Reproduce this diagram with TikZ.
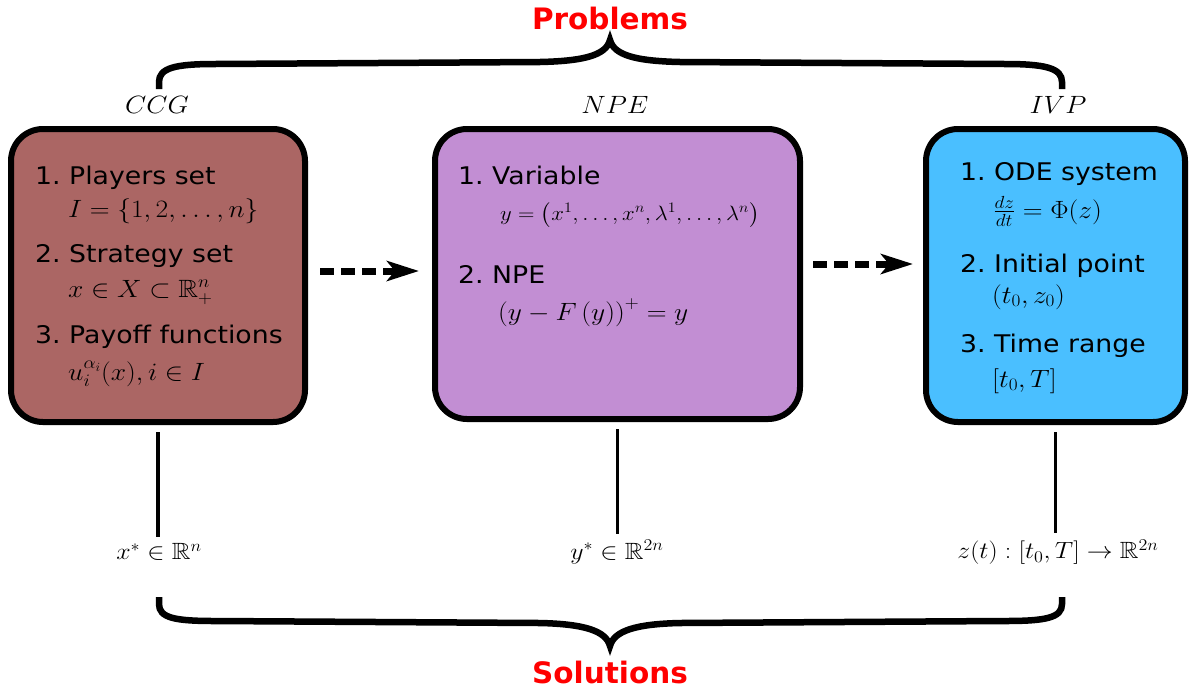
\RequirePackage{fix-cm}
\documentclass[tikz,border=0pt]{standalone}
\usepackage{fontspec}
\setmainfont{DejaVu Sans}
\usepackage{amsmath,amssymb}
\usepackage{graphicx}
\usetikzlibrary{arrows.meta}
\frenchspacing
\definecolor{ccgfill}{RGB}{171,102,100}
\definecolor{npefill}{RGB}{194,142,211}
\definecolor{ivpfill}{RGB}{74,191,255}
\newcommand{\hs}[1]{\scalebox{1.1}[1]{#1}}
\tikzset{
 box/.style={draw=black, line width=6pt, rounded corners=32pt, inner sep=0pt},
 item/.style={anchor=base west, inner sep=0pt, font=\fontsize{24.3}{28}\selectfont},
 formula/.style={anchor=base west, inner sep=0pt, font=\fontsize{25}{29}\selectfont},
 small formula/.style={anchor=base west, inner sep=0pt, font=\fontsize{20.7}{24}\selectfont},
 head/.style={inner sep=0pt, font=\fontsize{25}{29}\selectfont},
 sol/.style={inner sep=0pt, font=\fontsize{23.5}{27}\selectfont},
 title/.style={inner sep=0pt, text=red, font=\fontsize{29.5}{34}\selectfont\bfseries},
 brace/.style={line width=6.5pt},
 flow/.style={line width=7pt, dash pattern=on 14pt off 7pt, -{Stealth[length=32pt,width=20pt,inset=8pt]}},
 link/.style={line width=3.5pt},
}
\begin{document}
\begin{tikzpicture}[x=1pt,y=-1pt]
\useasboundingbox (0,0) rectangle (1191,689);
% boxes
\node[box, fill=ccgfill, minimum width=294pt, minimum height=293pt] (b1) at (158,275.5) {};
\node[box, fill=npefill, minimum width=365pt, minimum height=290pt] (b2) at (617.5,274) {};
\node[box, fill=ivpfill, minimum width=259pt, minimum height=293pt] (b3) at (1055.5,275.5) {};
% box 1 text
\node[item] (c1) at (35,184) {\hs{1. Players set}};
\node[formula] (c1f) at (68,217) {\hs{$I=\{1,2,\ldots,n\}$}};
\node[item] (c2) at (35,262) {\hs{2. Strategy set}};
\node[formula] (c2f) at (68,297) {\hs{$x\in X\subset\mathbb{R}^n_+$}};
\node[item] (c3) at (35,343) {\hs{3. Payoff functions}};
\node[formula] (c3f) at (68,380) {\hs{$u_i^{\alpha_i}(x), i\in I$}};
% box 2 text
\node[item] (n1) at (458,184) {\hs{1. Variable}};
\node[small formula] (n1f) at (500,220) {\hs{$y=\left(x^1,\ldots,x^n,\lambda^1,\ldots,\lambda^n\right)$}};
\node[item] (n2) at (458,283) {\hs{2. NPE}};
\node[formula] (n2f) at (498,320) {\hs{$\left(y-F\left(y\right)\right)^+=y$}};
% box 3 text
\node[item] (i1) at (960,180) {\hs{1. ODE system}};
\node[formula] (i1f) at (993,218) {\hs{$\frac{dz}{dt}=\Phi(z)$}};
\node[item] (i2) at (960,272) {\hs{2. Initial point}};
\node[formula] (i2f) at (992,303) {\hs{$(t_0,z_0)$}};
\node[item] (i3) at (960,352) {\hs{3. Time range}};
\node[formula] (i3f) at (992,387) {\hs{$[t_0,T]$}};
% arrows
\draw[flow, shorten <=12pt, shorten >=13pt] ([yshift=4.5pt]b1.east) -- ([yshift=4.5pt]b1.east -| b2.west);
\draw[flow, shorten <=10pt, shorten >=10pt] ([yshift=10pt]b2.east) -- ([yshift=10pt]b2.east -| b3.west);
% top labels
\node[head] (t1) at (157,105) {\hs{$CCG$}};
\node[head] (t2) at (615,105) {\hs{$NPE$}};
\node[head] (t3) at (1058,105) {\hs{$IVP$}};
% solution labels
\node[sol] (s1) at (159,552) {\hs{$x^*\in\mathbb{R}^n$}};
\node[sol] (s2) at (617,552) {\hs{$y^*\in\mathbb{R}^{2n}$}};
\node[sol] (s3) at (1058,552) {\hs{$z(t):[t_0,T]\to\mathbb{R}^{2n}$}};
% links
\draw[link, shorten <=7pt, shorten >=6pt] (b1.south) -- (b1.south |- s1.north);
\draw[link, shorten <=7pt, shorten >=6pt] (b2.south) -- (b2.south |- s2.north);
\draw[link, shorten <=7pt, shorten >=6pt] (b3.south) -- (b3.south |- s3.north);
% titles
\node[title] (pt) at (610,18) {Problems};
\node[title] (st) at (610,672) {Solutions};
% braces
\draw[brace] (159,89) -- (159,82) .. controls (159,68) and (175,64) .. (215,64) -- (540,62) .. controls (585,61) and (606,55) .. (610,40)
  .. controls (614,55) and (635,61) .. (680,62) -- (1005,64) .. controls (1045,64) and (1062,68) .. (1062,82) -- (1062,89);
\draw[brace] (159,597) -- (159,604) .. controls (159,618) and (175,621) .. (215,621) -- (540,623) .. controls (585,624) and (606,631) .. (610,646)
  .. controls (614,631) and (635,624) .. (680,623) -- (1005,621) .. controls (1045,621) and (1062,618) .. (1062,604) -- (1062,597);
\end{tikzpicture}
\end{document}
